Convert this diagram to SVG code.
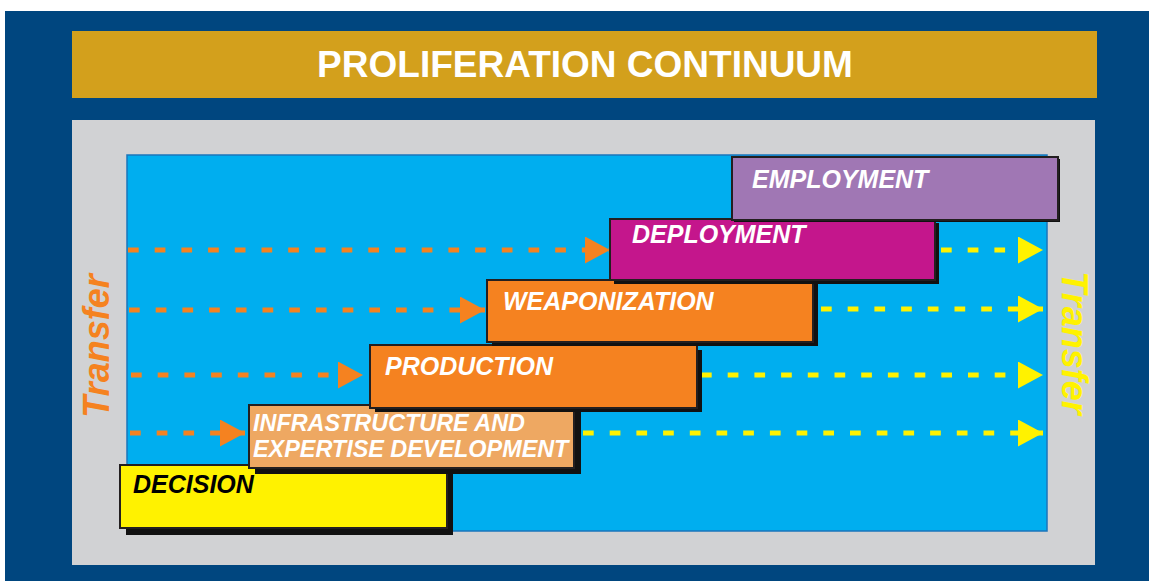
<svg xmlns="http://www.w3.org/2000/svg" width="1149" height="581" viewBox="0 0 1149 581">
<style>
.box{stroke:#231f20;stroke-width:2}
.shadow{fill:#111}
.lbl{font-family:"Liberation Sans",Arial,sans-serif;font-weight:bold;font-style:italic;font-size:25px;fill:#ffffff}
.conn{fill:none;stroke-width:5;stroke-dasharray:10.7 16}
.or{stroke:#f58220}
.ye{stroke:#fff200}
.transfer{font-family:"Liberation Sans",Arial,sans-serif;font-weight:bold;font-style:italic;font-size:36px;text-anchor:middle}
</style>
<defs>
<marker id="ahO" markerUnits="userSpaceOnUse" markerWidth="26" markerHeight="28" refX="25" refY="13.5" orient="auto" viewBox="0 0 26 28">
<path d="M0,0 L25,13.5 L0,27 Z" fill="#f58220"/>
</marker>
<marker id="ahY" markerUnits="userSpaceOnUse" markerWidth="26" markerHeight="28" refX="25" refY="13.5" orient="auto" viewBox="0 0 26 28">
<path d="M0,0 L25,13.5 L0,27 Z" fill="#fff200"/>
</marker>
</defs>
<rect x="0" y="0" width="1149" height="581" fill="#ffffff"/>
<rect x="5" y="11" width="1144" height="570" fill="#00467f"/>
<g id="header">
<rect x="72" y="31" width="1025" height="67" fill="#d3a01c"/>
<text x="585" y="77" font-family="Liberation Sans,Arial,sans-serif" font-weight="bold" font-size="37" fill="#ffffff" text-anchor="middle">PROLIFERATION CONTINUUM</text>
</g>
<rect x="72" y="120" width="1023" height="445" fill="#d1d2d4"/>
<rect x="127" y="155" width="920" height="376" fill="#00aeef" stroke="#1b75bb" stroke-width="1.5"/>
<g id="transfer-left">
<text class="transfer" fill="#f58220" transform="translate(109,346) rotate(-90)">Transfer</text>
</g>
<g id="transfer-right">
<text class="transfer" fill="#fff200" transform="translate(1062,343) rotate(90)">Transfer</text>
</g>
<g id="connectors">
<path class="conn or" d="M128,250 L610,250" marker-end="url(#ahO)"/>
<path class="conn or" d="M129,310 L485,310" marker-end="url(#ahO)"/>
<path class="conn or" d="M131,375 L363,375" marker-end="url(#ahO)"/>
<path class="conn or" d="M130,433 L245,433" marker-end="url(#ahO)"/>
<path class="conn ye" d="M941,250 L1043,250" marker-end="url(#ahY)"/>
<path class="conn ye" d="M821,309 L1043,309" marker-end="url(#ahY)"/>
<path class="conn ye" d="M701,375 L1043,375" marker-end="url(#ahY)"/>
<path class="conn ye" d="M583,433 L1043,433" marker-end="url(#ahY)"/>
</g>
<g id="decision">
<rect class="shadow" x="126" y="471" width="327" height="64"/>
<rect class="box" x="120" y="465" width="327" height="63" fill="#fff200"/>
<text class="lbl" x="133" y="493" style="fill:#000000">DECISION</text>
</g>
<g id="infrastructure">
<rect class="shadow" x="255" y="411" width="326" height="63"/>
<rect class="box" x="249" y="405" width="325" height="63" fill="#eea862"/>
<text class="lbl" x="253" y="431" style="font-size:23.4px">INFRASTRUCTURE AND</text>
<text class="lbl" x="253" y="457" style="font-size:23.4px">EXPERTISE DEVELOPMENT</text>
</g>
<g id="production">
<rect class="shadow" x="375" y="350" width="327" height="62"/>
<rect class="box" x="370" y="345" width="327" height="63" fill="#f58220"/>
<text class="lbl" x="385" y="375">PRODUCTION</text>
</g>
<g id="weaponization">
<rect class="shadow" x="492" y="284" width="326" height="62"/>
<rect class="box" x="487" y="280" width="326" height="62" fill="#f58220"/>
<text class="lbl" x="503" y="310">WEAPONIZATION</text>
</g>
<g id="deployment">
<rect class="shadow" x="614" y="223" width="325" height="61"/>
<rect class="box" x="610" y="219" width="325" height="61" fill="#c4168c"/>
<text class="lbl" x="632" y="243">DEPLOYMENT</text>
</g>
<g id="employment">
<rect class="shadow" x="734" y="159" width="326" height="63"/>
<rect class="box" x="732" y="157" width="326" height="63" fill="#a077b4"/>
<text class="lbl" x="752" y="188">EMPLOYMENT</text>
</g>
</svg>
